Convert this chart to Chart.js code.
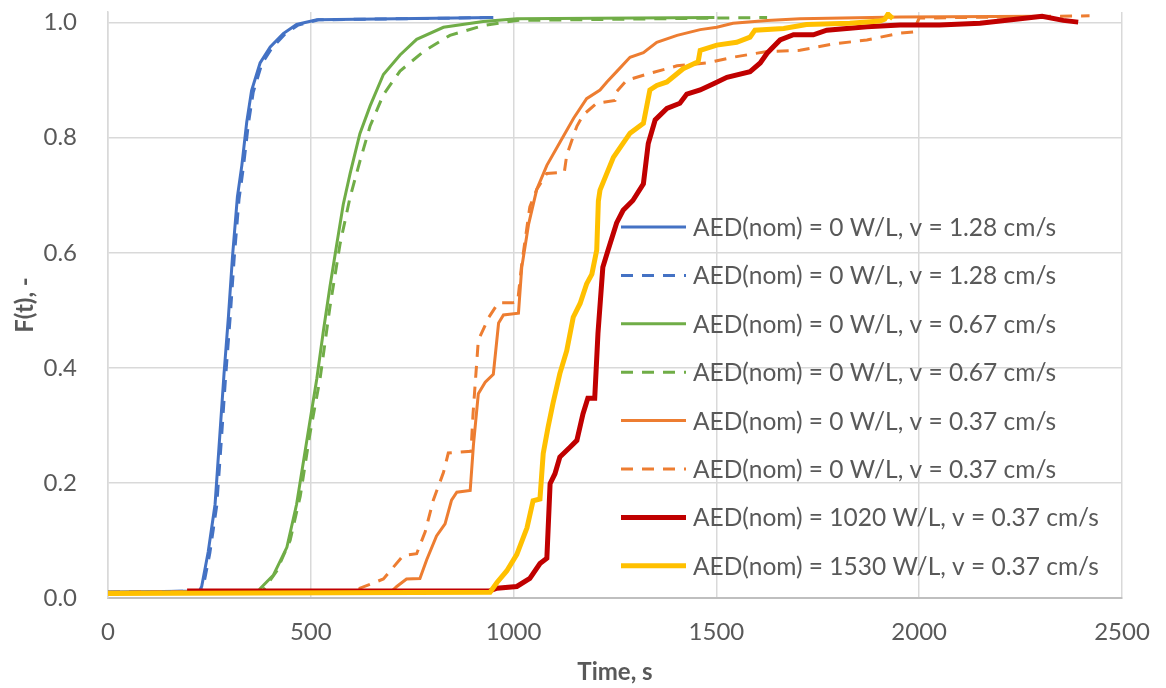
<!DOCTYPE html>
<html>
<head>
<meta charset="utf-8">
<script src="https://cdn.jsdelivr.net/npm/chart.js@4.4.1/dist/chart.umd.min.js"></script>
<style>
  body { margin: 0; background: #fff; }
</style>
</head>
<body>
<canvas id="grafico" width="1166" height="688"></canvas>
<script>
// valores (tempo em s, F(t))
const blueSolidT = [0, 225, 231, 247, 264, 276, 286, 297, 307, 319, 330, 342, 354, 375, 400, 432, 465, 515, 950];
const blueSolidF = [0.010, 0.012, 0.02, 0.08, 0.163, 0.286, 0.389, 0.49, 0.594, 0.697, 0.752, 0.827, 0.882, 0.93, 0.958, 0.981, 0.997, 1.005, 1.009];

const blueDashT = [0, 229, 235, 251, 268, 280, 290, 301, 311, 323, 334, 346, 358, 379, 404, 436, 469, 519, 960];
const blueDashF = [0.010, 0.012, 0.02, 0.078, 0.16, 0.28, 0.385, 0.486, 0.59, 0.693, 0.75, 0.824, 0.879, 0.928, 0.956, 0.98, 0.996, 1.005, 1.009];

const greenSolidT = [0, 370, 375, 408, 441, 465, 490, 515, 531, 547, 564, 580, 597, 621, 646, 679, 720, 761, 827, 925, 1008, 1495];
const greenSolidF = [0.010, 0.011, 0.016, 0.04, 0.088, 0.163, 0.273, 0.382, 0.464, 0.54, 0.615, 0.684, 0.738, 0.807, 0.855, 0.91, 0.944, 0.971, 0.992, 1.002, 1.007, 1.009];

const greenDashT = [0, 380, 385, 416, 449, 474, 498, 523, 547, 572, 597, 621, 646, 679, 720, 778, 843, 925, 1008, 1625];
const greenDashF = [0.010, 0.011, 0.016, 0.047, 0.10, 0.177, 0.286, 0.382, 0.505, 0.615, 0.697, 0.759, 0.82, 0.875, 0.916, 0.95, 0.978, 0.995, 1.004, 1.009];

const orangeSolidT = [0, 700, 712, 736, 769, 786, 810, 831, 847, 860, 893, 901, 913, 930, 950, 963, 975, 1012, 1020, 1037, 1057, 1082, 1115, 1148, 1180, 1213, 1230, 1254, 1287, 1320, 1353, 1403, 1460, 1501, 1541, 1625, 1706, 1953, 2300];
const orangeSolidF = [0.010, 0.012, 0.02, 0.033, 0.034, 0.067, 0.108, 0.129, 0.17, 0.184, 0.187, 0.266, 0.355, 0.375, 0.389, 0.478, 0.492, 0.495, 0.574, 0.65, 0.71, 0.752, 0.793, 0.834, 0.868, 0.883, 0.897, 0.915, 0.94, 0.948, 0.966, 0.978, 0.988, 0.992, 0.999, 1.004, 1.007, 1.01, 1.011];

const orangeDashT = [0, 615, 621, 679, 728, 761, 782, 802, 827, 839, 856, 895, 900, 913, 939, 962, 996, 1010, 1020, 1040, 1057, 1082, 1125, 1131, 1156, 1172, 1205, 1250, 1254, 1279, 1336, 1403, 1476, 1541, 1625, 1706, 1788, 1871, 1953, 1985, 2000, 2420];
const orangeDashF = [0.010, 0.012, 0.017, 0.033, 0.074, 0.077, 0.115, 0.17, 0.218, 0.252, 0.253, 0.255, 0.32, 0.448, 0.488, 0.513, 0.513, 0.515, 0.58, 0.68, 0.71, 0.738, 0.74, 0.77, 0.82, 0.84, 0.86, 0.865, 0.88, 0.9, 0.912, 0.925, 0.93, 0.94, 0.95, 0.952, 0.963, 0.97, 0.982, 0.984, 1.008, 1.012];

const redT = [195, 940, 959, 1008, 1040, 1065, 1082, 1090, 1102, 1114, 1139, 1156, 1171, 1183, 1200, 1208, 1220, 1233, 1254, 1270, 1294, 1320, 1332, 1349, 1378, 1410, 1427, 1460, 1493, 1526, 1583, 1608, 1625, 1657, 1690, 1739, 1772, 1871, 1953, 2050, 2150, 2249, 2303, 2355, 2392];
const redF = [0.012, 0.012, 0.017, 0.02, 0.034, 0.06, 0.069, 0.199, 0.216, 0.245, 0.262, 0.274, 0.32, 0.347, 0.347, 0.46, 0.575, 0.605, 0.652, 0.674, 0.691, 0.72, 0.79, 0.831, 0.851, 0.86, 0.876, 0.883, 0.894, 0.905, 0.915, 0.93, 0.947, 0.97, 0.979, 0.979, 0.987, 0.993, 0.996, 0.996, 0.999, 1.007, 1.011, 1.004, 1.001];

const yellowT = [0, 942, 959, 983, 1008, 1033, 1048, 1065, 1073, 1085, 1097, 1114, 1131, 1147, 1164, 1180, 1193, 1205, 1209, 1213, 1246, 1287, 1320, 1336, 1353, 1378, 1418, 1455, 1460, 1501, 1550, 1583, 1595, 1666, 1722, 1829, 1903, 1915, 1923, 1935];
const yellowF = [0.008, 0.01, 0.027, 0.047, 0.076, 0.122, 0.169, 0.172, 0.251, 0.297, 0.338, 0.39, 0.43, 0.488, 0.512, 0.546, 0.563, 0.605, 0.69, 0.709, 0.766, 0.808, 0.825, 0.883, 0.891, 0.897, 0.92, 0.932, 0.952, 0.961, 0.966, 0.975, 0.987, 0.99, 0.997, 0.999, 1.003, 1.006, 1.015, 1.007];

const nomes = [
  'AED(nom) = 0 W/L, v = 1.28 cm/s',
  'AED(nom) = 0 W/L, v = 1.28 cm/s',
  'AED(nom) = 0 W/L, v = 0.67 cm/s',
  'AED(nom) = 0 W/L, v = 0.67 cm/s',
  'AED(nom) = 0 W/L, v = 0.37 cm/s',
  'AED(nom) = 0 W/L, v = 0.37 cm/s',
  'AED(nom) = 1020 W/L, v = 0.37 cm/s',
  'AED(nom) = 1530 W/L, v = 0.37 cm/s'
];
const xTicks = [0, 500, 1000, 1500, 2000, 2500];
const yTicks = [0, 0.2, 0.4, 0.6, 0.8, 1.0];

const cinza = '#595959';
const fonte = 'Lato, "Open Sans", sans-serif';

const pontos = (t, f) => t.map((v, i) => ({ x: v, y: f[i] }));

const serie = (label, t, f, cor, largura, tracejado, ordem) => ({
  label,
  data: pontos(t, f),
  borderColor: cor,
  backgroundColor: cor,
  borderWidth: largura,
  borderDash: tracejado ? [12, 9] : [],
  pointRadius: 0,
  tension: 0,
  fill: false,
  order: ordem
});

const datasets = [
  serie(nomes[0], blueSolidT, blueSolidF, '#4472C4', 3, false, 8),
  serie(nomes[1], blueDashT, blueDashF, '#4472C4', 3, true, 7),
  serie(nomes[2], greenSolidT, greenSolidF, '#70AD47', 3, false, 6),
  serie(nomes[3], greenDashT, greenDashF, '#70AD47', 3, true, 5),
  serie(nomes[4], orangeSolidT, orangeSolidF, '#ED7D31', 3, false, 4),
  serie(nomes[5], orangeDashT, orangeDashF, '#ED7D31', 3, true, 3),
  serie(nomes[6], redT, redF, '#C00000', 5, false, 2),
  serie(nomes[7], yellowT, yellowF, '#FFC000', 5, false, 1)
];

// legenda desenhada dentro da área do gráfico
const legendaDentro = {
  id: 'legendaDentro',
  afterDraw(chart) {
    const ctx = chart.ctx;
    ctx.save();
    ctx.font = '24.5px ' + fonte;
    ctx.textBaseline = 'middle';
    chart.data.datasets.forEach((ds, i) => {
      const y = 227 + i * 48.4;
      ctx.strokeStyle = ds.borderColor;
      ctx.lineWidth = ds.borderWidth;
      ctx.setLineDash(ds.borderDash);
      ctx.beginPath();
      ctx.moveTo(621, y);
      ctx.lineTo(686, y);
      ctx.stroke();
      ctx.setLineDash([]);
      ctx.fillStyle = cinza;
      ctx.fillText(ds.label, 693, y + 1);
    });
    ctx.restore();
  }
};

new Chart(document.getElementById('grafico'), {
  type: 'line',
  data: { datasets },
  plugins: [legendaDentro],
  options: {
    responsive: false,
    animation: false,
    layout: { padding: { top: 12, right: 44, left: 0, bottom: 0 } },
    plugins: {
      legend: { display: false },
      tooltip: { enabled: false }
    },
    scales: {
      x: {
        type: 'linear',
        min: 0,
        max: 2500,
        afterFit: s => { s.height = 90; s.paddingLeft = 0; s.paddingRight = 0; },
        afterBuildTicks: s => { s.ticks = xTicks.map(v => ({ value: v })); },
        grid: { color: '#d9d9d9', lineWidth: 1.5, drawTicks: false },
        border: { color: '#bfbfbf', width: 2 },
        ticks: {
          padding: 20,
          color: cinza,
          font: { family: fonte, size: 24 },
          callback: v => String(v)
        },
        title: {
          display: true,
          text: 'Time, s',
          color: cinza,
          font: { family: fonte, size: 24, weight: 'bold' },
          padding: { top: 0, bottom: 1 }
        }
      },
      y: {
        type: 'linear',
        min: 0,
        max: 1.0186,
        afterFit: s => { s.width = 108; s.paddingTop = 0; s.paddingBottom = 0; },
        afterBuildTicks: s => { s.ticks = yTicks.map(v => ({ value: v })); },
        grid: { color: '#d9d9d9', lineWidth: 1.5, drawTicks: false },
        border: { color: '#d9d9d9', width: 1.5 },
        ticks: {
          padding: 31,
          color: cinza,
          font: { family: fonte, size: 24 },
          callback: v => v.toFixed(1)
        },
        title: {
          display: true,
          text: 'F(t), -',
          color: cinza,
          font: { family: fonte, size: 24, weight: 'bold' },
          padding: { top: 11, bottom: 0 }
        }
      }
    }
  }
});
</script>
</body>
</html>
